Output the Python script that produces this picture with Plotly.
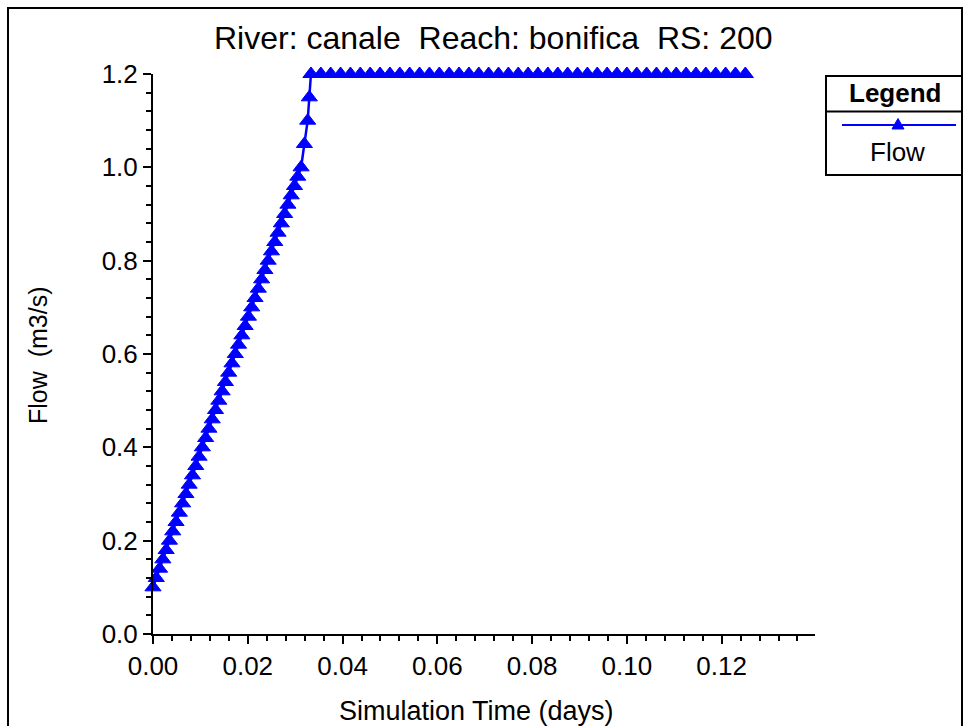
import plotly.graph_objects as go

# Flow hydrograph at River: canale, Reach: bonifica, RS 200
# Times in minutes from the start of the simulation, flows in m3/s.
ramp_minutes = [0, 1, 2, 3, 4, 5, 6, 7, 8, 9, 10, 11, 12, 13, 14, 15, 16, 17, 18, 19,
                20, 21, 22, 23, 24, 25, 26, 27, 28, 29, 30, 31, 32, 33, 34, 35, 36, 37,
                38, 39, 40, 41, 42, 43, 44, 45, 46, 47, 47.5]
ramp_flow = [0.10, 0.12, 0.14, 0.16, 0.18, 0.20, 0.22, 0.24, 0.26, 0.28, 0.30, 0.32,
             0.34, 0.36, 0.38, 0.40, 0.42, 0.44, 0.46, 0.48, 0.50, 0.52, 0.54, 0.56,
             0.58, 0.60, 0.62, 0.64, 0.66, 0.68, 0.70, 0.72, 0.74, 0.76, 0.78, 0.80,
             0.82, 0.84, 0.86, 0.88, 0.90, 0.92, 0.94, 0.96, 0.98, 1.00, 1.05, 1.10, 1.15]
plateau_minutes = [48, 51, 54, 57, 60, 63, 66, 69, 72, 75, 78, 81, 84, 87, 90, 93, 96,
                   99, 102, 105, 108, 111, 114, 117, 120, 123, 126, 129, 132, 135, 138,
                   141, 144, 147, 150, 153, 156, 159, 162, 165, 168, 171, 174, 177, 180]
plateau_flow = [1.20] * len(plateau_minutes)

time_days = [m / 1440.0 for m in ramp_minutes + plateau_minutes]
flow = ramp_flow + plateau_flow

x_ticks = [0.00, 0.02, 0.04, 0.06, 0.08, 0.10, 0.12]
x_tick_text = ["0.00", "0.02", "0.04", "0.06", "0.08", "0.10", "0.12"]
y_ticks = [0.0, 0.2, 0.4, 0.6, 0.8, 1.0, 1.2]
y_tick_text = ["0.0", "0.2", "0.4", "0.6", "0.8", "1.0", "1.2"]

FIG_W, FIG_H = 970, 726
LEFT, TOP, PLOT_W, PLOT_H = 153, 74, 662, 560
FONT = "Liberation Sans, Arial, sans-serif"
BLUE = "#0000FF"


def px(x):
    """Pixel column -> paper x."""
    return (x - LEFT) / PLOT_W


def py(y):
    """Pixel row -> paper y."""
    return (TOP + PLOT_H - y) / PLOT_H


fig = go.Figure()
fig.add_trace(go.Scatter(
    x=time_days, y=flow, mode="lines+markers", name="Flow",
    line=dict(color=BLUE, width=2.5),
    marker=dict(symbol="triangle-up", size=14, color=BLUE,
                line=dict(color=BLUE, width=1)),
    cliponaxis=False, showlegend=False,
))

axis_common = dict(
    showline=True, linecolor="black", linewidth=2,
    ticks="outside", ticklen=8, tickwidth=2, tickcolor="black",
    showgrid=False, zeroline=False,
    tickfont=dict(family=FONT, size=26, color="black"),
)
fig.update_xaxes(range=[0, 0.1397], tickvals=x_ticks, ticktext=x_tick_text,
                 minor=dict(tick0=0, dtick=0.004, ticks="outside", ticklen=5,
                            tickwidth=2, tickcolor="black", showgrid=False),
                 **axis_common)
fig.update_yaxes(range=[0, 1.2], tickvals=y_ticks, ticktext=y_tick_text,
                 minor=dict(tick0=0, dtick=0.04, ticks="outside", ticklen=5,
                            tickwidth=2, tickcolor="black", showgrid=False),
                 **axis_common)

shapes = [
    # outer frame
    dict(type="rect", xref="paper", yref="paper", x0=px(8), x1=px(962),
         y0=py(745), y1=py(8), line=dict(color="black", width=2)),
    # legend box
    dict(type="rect", xref="paper", yref="paper", x0=px(826), x1=px(962),
         y0=py(175), y1=py(76), line=dict(color="black", width=2)),
    dict(type="line", xref="paper", yref="paper", x0=px(826), x1=px(962),
         y0=py(111.5), y1=py(111.5), line=dict(color="black", width=2)),
    dict(type="line", xref="paper", yref="paper", x0=px(842), x1=px(956),
         y0=py(125), y1=py(125), line=dict(color=BLUE, width=2)),
    dict(type="path", xref="paper", yref="paper",
         path="M {:.5f},{:.5f} L {:.5f},{:.5f} L {:.5f},{:.5f} Z".format(
             px(898), py(118.5), px(892), py(129), px(904), py(129)),
         fillcolor=BLUE, line=dict(color=BLUE, width=1)),
]

annotations = [
    dict(text="River: canale\u00a0\u00a0Reach: bonifica\u00a0\u00a0RS: 200",
         x=px(493), y=py(38), xref="paper", yref="paper", showarrow=False,
         xanchor="center", yanchor="middle",
         font=dict(family=FONT, size=32, color="black")),
    dict(text="Simulation Time (days)", x=px(476), y=py(711), xref="paper",
         yref="paper", showarrow=False, xanchor="center", yanchor="middle",
         font=dict(family=FONT, size=27, color="black")),
    dict(text="Flow\u00a0\u00a0(m3/s)", x=px(38), y=py(355), xref="paper",
         yref="paper", showarrow=False, xanchor="center", yanchor="middle",
         textangle=-90, font=dict(family=FONT, size=25, color="black")),
    dict(text="<b>Legend</b>", x=px(895), y=py(93), xref="paper", yref="paper",
         showarrow=False, xanchor="center", yanchor="middle",
         font=dict(family=FONT, size=26, color="black")),
    dict(text="Flow", x=px(897), y=py(152), xref="paper", yref="paper",
         showarrow=False, xanchor="center", yanchor="middle",
         font=dict(family=FONT, size=26, color="black")),
]

fig.update_layout(
    width=FIG_W, height=FIG_H,
    margin=dict(l=LEFT, r=FIG_W - LEFT - PLOT_W, t=TOP, b=FIG_H - TOP - PLOT_H),
    paper_bgcolor="white", plot_bgcolor="white",
    shapes=shapes, annotations=annotations, showlegend=False,
)

fig.write_html("out.html")
